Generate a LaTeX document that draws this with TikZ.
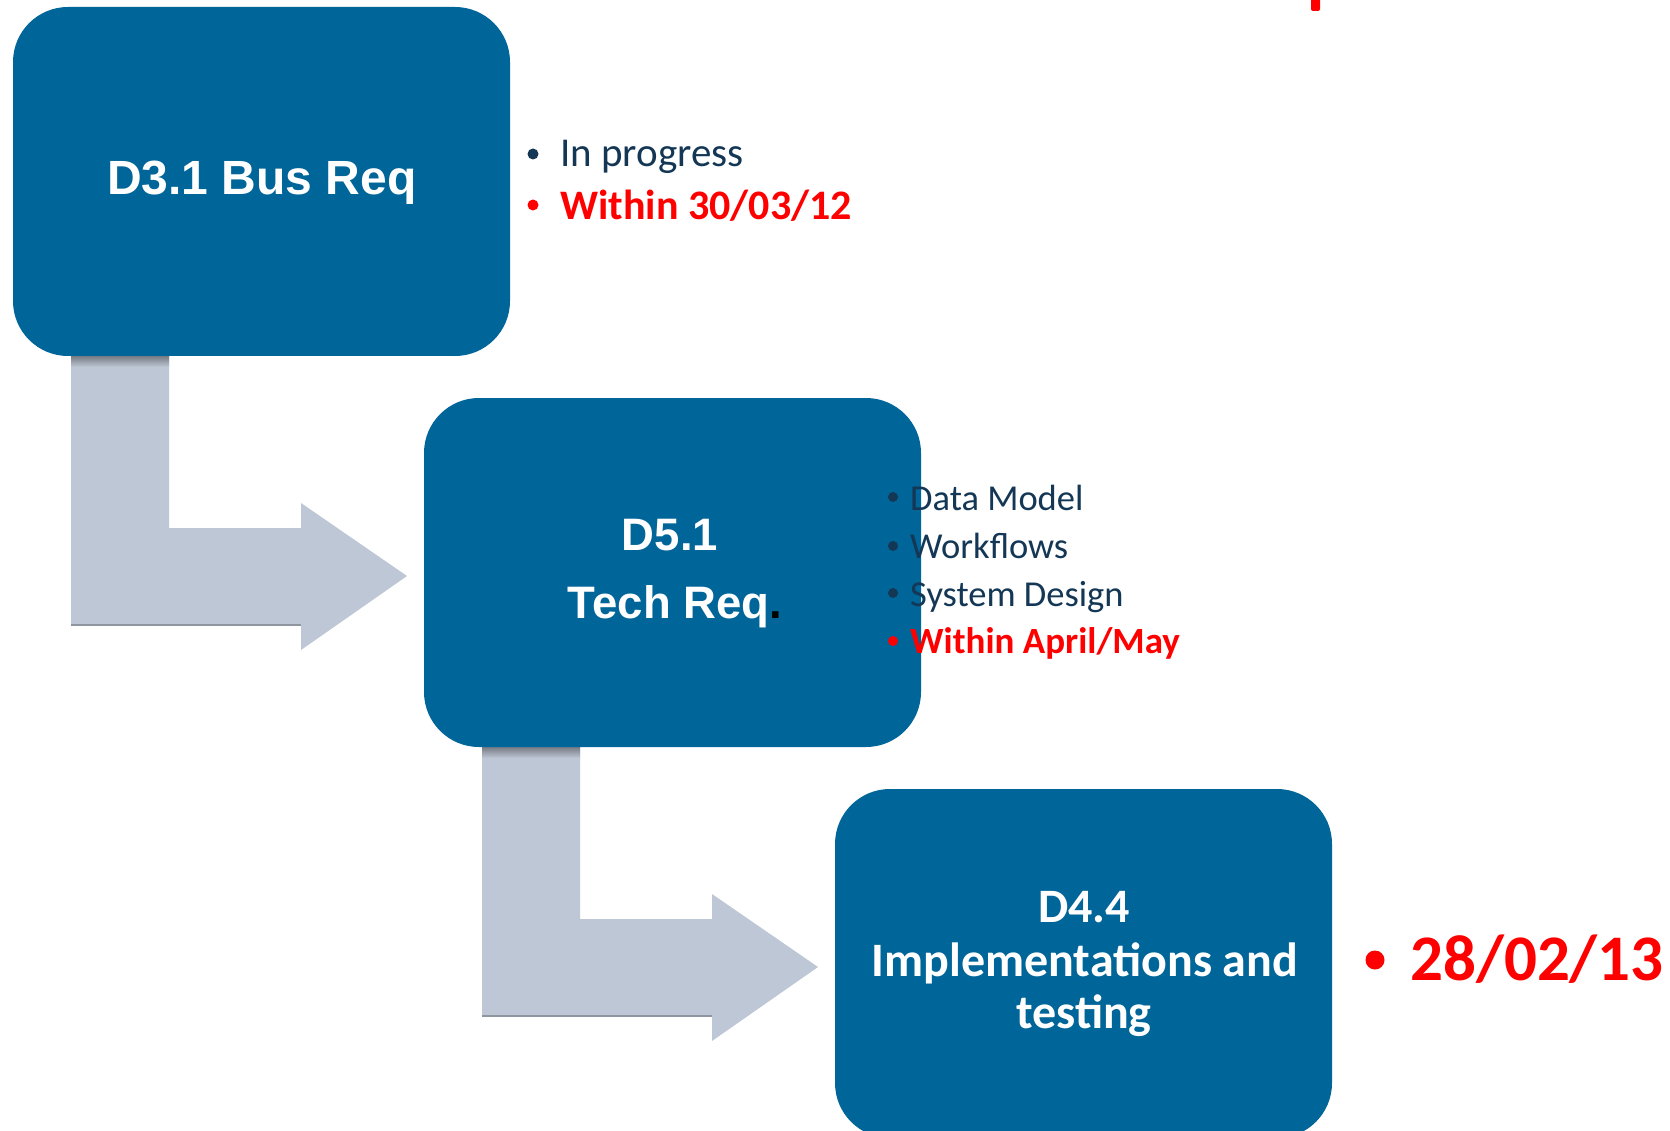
\documentclass[tikz,border=0pt]{standalone}
\usepackage{fontspec}
\setmainfont{Carlito}
\newfontfamily\arialfont{Liberation Sans}
\definecolor{boxblue}{RGB}{0,101,153}
\definecolor{arrowgray}{RGB}{190,199,213}
\definecolor{shadowgray}{RGB}{112,117,125}
\definecolor{navytext}{RGB}{20,55,85}
\definecolor{brightred}{RGB}{255,0,0}
\begin{document}
\begin{tikzpicture}[x=1pt,y=-1pt,
  stagebox/.style={fill=boxblue, draw=none, rounded corners=55pt, minimum width=497pt, minimum height=349pt, inner sep=0pt},
  titleA/.style={text=white, inner sep=0pt, anchor=base, font=\arialfont\bfseries\fontsize{48}{56}\selectfont},
  titleB/.style={text=white, inner sep=0pt, anchor=base, font=\arialfont\bfseries\fontsize{45.5}{54}\selectfont},
  titleC/.style={text=white, inner sep=0pt, anchor=base, font=\bfseries\fontsize{48}{52}\selectfont},
  notebig/.style={inner sep=0pt, anchor=base west, font=\fontsize{41}{48}\selectfont},
  notesmall/.style={inner sep=0pt, anchor=base west, font=\fontsize{36.5}{44}\selectfont},
  dot/.style={circle, inner sep=0pt, draw=none},
  bendarrow/.pic={
    \fill[arrowgray] (0,-6) -- (98,-6) -- (98,173) -- (230,173) -- (230,148) -- (336,221) -- (230,295) -- (230,270) -- (0,270) -- cycle;
    \draw[shadowgray!60!arrowgray, line width=1.5pt] (0,270) -- (230,270);
    \shade[top color=shadowgray, bottom color=arrowgray] (0,0) rectangle (98,12);
  }]
\useasboundingbox (0,0) rectangle (1670,1131);
\fill[white] (0,0) rectangle (1670,1131);
\begin{scope}
\clip (0,0) rectangle (1670,1131);
% small red mark at the top edge
\fill[brightred, rounded corners=2pt] (1311,-5) rectangle (1320,11);
% bent arrows
\pic at (71,355) {bendarrow};
\pic at (482,746) {bendarrow};
% stage boxes
\node[stagebox] (b1) at (261.5,181.5) {};
\node[stagebox] (b2) at (672.5,572.5) {};
\node[stagebox] (b3) at (1083.5,963.5) {};
% box titles
\node[titleA] (t1) at (262,195) {D3.1 Bus Req};
\node[titleB] (t2a) at (670,550) {D5.1};
\node[titleB] (t2b) at (675,618) {Tech Req{\color{black}.}};
\node[titleC] (t3a) at (1084,922) {D4.4};
\node[titleC] (t3b) at (1085,976) {Implementations and};
\node[titleC] (t3c) at (1084,1028) {testing};
% notes for D3.1
\node[dot, fill=navytext, minimum size=11pt] (d1) at (533,154) {};
\node[notebig, text=navytext] (n1) at (560,167) {In progress};
\node[dot, fill=brightred, minimum size=11pt] (d2) at (533,205) {};
\node[notebig, text=brightred, font=\bfseries\fontsize{42}{48}\selectfont] (n2) at (560,220) {Within 30/03/12};
% notes for D5.1
\node[dot, fill=navytext, minimum size=10pt] (d3) at (893,497) {};
\node[notesmall, text=navytext] (n3) at (910,510) {Data Model};
\node[dot, fill=navytext, minimum size=10pt] (d4) at (893,546) {};
\node[notesmall, text=navytext] (n4) at (910,558) {Workflows};
\node[dot, fill=navytext, minimum size=10pt] (d5) at (893,593) {};
\node[notesmall, text=navytext] (n5) at (910,606) {System Design};
\node[dot, fill=brightred, minimum size=10pt] (d6) at (893,641) {};
\node[notesmall, text=brightred, font=\bfseries\fontsize{37}{44}\selectfont] (n6) at (910,653) {Within April/May};
% note for D4.4
\node[dot, fill=brightred, minimum size=19pt] (d7) at (1375,960) {};
\node[notebig, text=brightred, font=\bfseries\fontsize{65}{72}\selectfont] (n7) at (1410,980) {28/02/13};
\end{scope}
\end{tikzpicture}
\end{document}
